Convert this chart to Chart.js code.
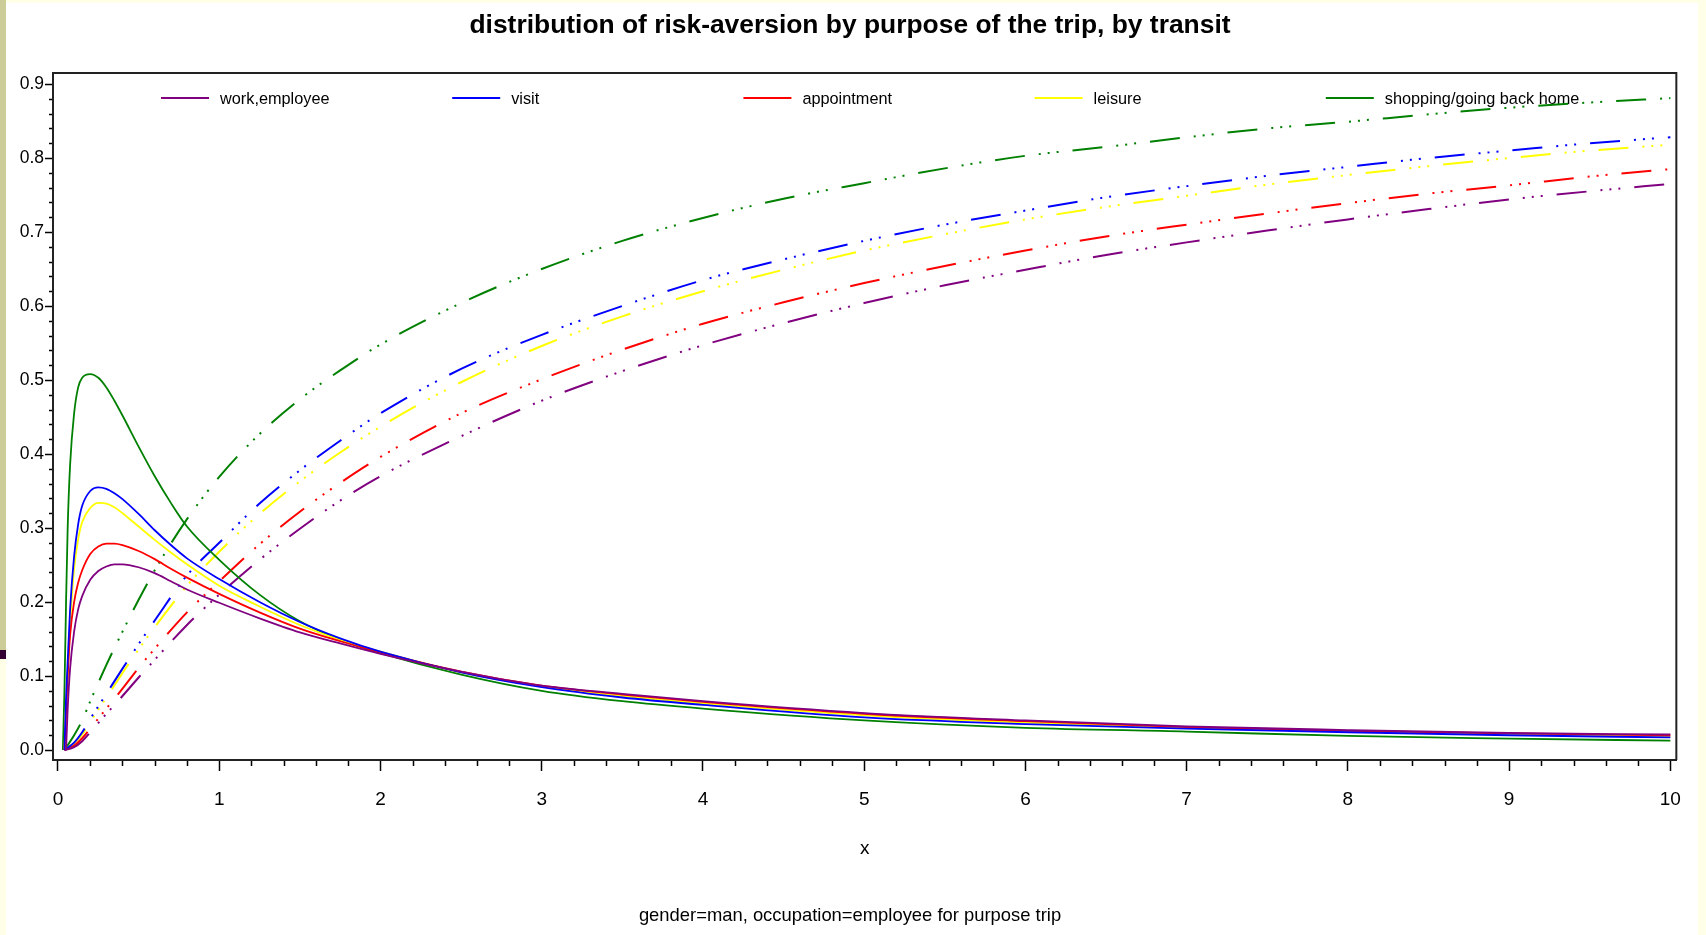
<!DOCTYPE html>
<html>
<head>
<meta charset="utf-8">
<title>distribution of risk-aversion by purpose of the trip, by transit</title>
<script src="https://cdn.jsdelivr.net/npm/chart.js@4.4.1/dist/chart.umd.min.js"></script>
<style>
  html, body { margin: 0; padding: 0; }
  body { width: 1706px; height: 935px; background: #ffffe8; position: relative; overflow: hidden; }
  #strip { position: absolute; left: 0; top: 0; width: 6px; height: 650px; background: #cccc99; }
  #mark { position: absolute; left: 0; top: 650px; width: 6px; height: 9px; background: #330033; }
  #box { position: absolute; left: 6px; top: 3px; width: 1692px; height: 932px; background: #fff; }
</style>
</head>
<body>
<div id="strip"></div><div id="mark"></div>
<div id="box"><canvas id="chart" width="1692" height="932"></canvas></div>
<script>
// groups (purpose of the trip) and their colours
const groups = ['work,employee', 'visit', 'appointment', 'leisure', 'shopping/going back home'];
const colors = ['#800080', '#0000ff', '#ff0000', '#ffff00', '#008000'];

// density curves (solid lines)
const pdfX = [0.03, 0.04, 0.05, 0.06, 0.075, 0.1, 0.125, 0.15, 0.2, 0.25, 0.3, 0.35, 0.4, 0.5, 0.6, 0.7, 0.8, 1.0, 1.25, 1.5, 1.75, 2, 2.5, 3, 3.5, 4, 5, 6, 7, 8, 9, 10];
const pdfWork     = [null, null, 0, 0.055, 0.11, 0.16, 0.19, 0.208, 0.23, 0.242, 0.248, 0.251, 0.251, 0.247, 0.239, 0.228, 0.217, 0.199, 0.178, 0.159, 0.144, 0.130, 0.106, 0.087, 0.076, 0.066, 0.050, 0.040, 0.032, 0.027, 0.023, 0.021];
const pdfVisit    = [null, 0, 0.07, 0.12, 0.19, 0.262, 0.305, 0.33, 0.35, 0.355, 0.353, 0.347, 0.339, 0.319, 0.297, 0.277, 0.259, 0.231, 0.2, 0.173, 0.151, 0.133, 0.105, 0.085, 0.071, 0.061, 0.044, 0.035, 0.029, 0.024, 0.020, 0.017];
const pdfAppt     = [null, 0, 0.05, 0.1, 0.155, 0.2, 0.226, 0.243, 0.265, 0.275, 0.279, 0.279, 0.277, 0.269, 0.258, 0.245, 0.233, 0.211, 0.186, 0.164, 0.147, 0.132, 0.106, 0.087, 0.075, 0.065, 0.049, 0.039, 0.031, 0.026, 0.0225, 0.020];
const pdfLeisure  = [null, 0, 0.06, 0.1, 0.17, 0.245, 0.285, 0.308, 0.327, 0.334, 0.333, 0.328, 0.32, 0.302, 0.284, 0.267, 0.251, 0.222, 0.194, 0.169, 0.149, 0.133, 0.105, 0.086, 0.073, 0.063, 0.047, 0.037, 0.030, 0.025, 0.021, 0.0185];
const pdfShopping = [0, 0.08, 0.2, 0.3, 0.385, 0.455, 0.49, 0.503, 0.508, 0.503, 0.49, 0.472, 0.452, 0.41, 0.37, 0.334, 0.302, 0.257, 0.21, 0.174, 0.149, 0.131, 0.102, 0.080, 0.066, 0.056, 0.040, 0.030, 0.025, 0.019, 0.0155, 0.0126];

// cumulative curves (dash-dot lines)
const cdfX = [0.04, 0.1, 0.15, 0.2, 0.3, 0.4, 0.5, 0.6, 0.8, 1.0, 1.25, 1.5, 1.75, 2, 2.5, 3, 3.5, 4, 4.5, 5, 5.5, 6, 6.5, 7, 7.5, 8, 8.5, 9, 9.5, 10];
const cdfWork     = [0, 0.004, 0.012, 0.024, 0.049, 0.073, 0.098, 0.122, 0.169, 0.21, 0.257, 0.299, 0.337, 0.37, 0.424, 0.472, 0.512, 0.547, 0.577, 0.604, 0.628, 0.649, 0.669, 0.686, 0.702, 0.717, 0.731, 0.744, 0.755, 0.765];
const cdfVisit    = [0, 0.01, 0.024, 0.042, 0.076, 0.11, 0.143, 0.175, 0.236, 0.28, 0.333, 0.378, 0.418, 0.455, 0.515, 0.561, 0.600, 0.635, 0.663, 0.688, 0.710, 0.729, 0.747, 0.762, 0.776, 0.788, 0.80, 0.81, 0.82, 0.828];
const cdfAppt     = [0, 0.006, 0.016, 0.029, 0.056, 0.083, 0.111, 0.137, 0.186, 0.228, 0.278, 0.322, 0.361, 0.396, 0.455, 0.501, 0.541, 0.576, 0.605, 0.631, 0.654, 0.675, 0.694, 0.710, 0.725, 0.739, 0.752, 0.763, 0.775, 0.785];
const cdfLeisure  = [0, 0.009, 0.021, 0.038, 0.071, 0.104, 0.136, 0.166, 0.222, 0.268, 0.319, 0.363, 0.402, 0.437, 0.497, 0.546, 0.586, 0.620, 0.649, 0.675, 0.697, 0.717, 0.734, 0.749, 0.764, 0.777, 0.789, 0.80, 0.81, 0.818];
const cdfShopping = [0, 0.02, 0.04, 0.066, 0.115, 0.16, 0.203, 0.243, 0.312, 0.369, 0.427, 0.474, 0.513, 0.548, 0.604, 0.65, 0.688, 0.719, 0.745, 0.766, 0.786, 0.803, 0.815, 0.828, 0.840, 0.849, 0.859, 0.868, 0.875, 0.881];

const xTicks = [0, 1, 2, 3, 4, 5, 6, 7, 8, 9, 10];
const yTicks = [0, 0.1, 0.2, 0.3, 0.4, 0.5, 0.6, 0.7, 0.8, 0.9];

const FONT = "'Liberation Sans', Arial, sans-serif";
Chart.defaults.font.family = FONT;
Chart.defaults.color = '#000';

const pdfs = [pdfWork, pdfVisit, pdfAppt, pdfLeisure, pdfShopping];
const cdfs = [cdfWork, cdfVisit, cdfAppt, cdfLeisure, cdfShopping];

function toPoints(xs, ys) {
  const pts = [];
  xs.forEach((x, i) => { if (ys[i] !== null) pts.push({ x: x, y: ys[i] }); });
  return pts;
}

const datasets = [];
groups.forEach((g, i) => {
  datasets.push({
    label: g,
    data: toPoints(pdfX, pdfs[i]),
    borderColor: colors[i],
    borderWidth: 1.8,
    pointRadius: 0,
    cubicInterpolationMode: 'monotone'
  });
});
groups.forEach((g, i) => {
  datasets.push({
    label: g + ' (cumulative)',
    data: toPoints(cdfX, cdfs[i]),
    borderColor: colors[i],
    borderWidth: 2,
    borderDash: [30, 14, 2, 7, 2, 7, 2, 14],
    pointRadius: 0,
    cubicInterpolationMode: 'monotone'
  });
});

// legend laid out in fixed columns inside the plot area
const insideLegend = {
  id: 'insideLegend',
  beforeDatasetsDraw(chart) {
    const { ctx, chartArea } = chart;
    ctx.save();
    ctx.font = '16.3px ' + FONT;
    ctx.textBaseline = 'middle';
    ctx.fillStyle = '#000';
    groups.forEach((g, i) => {
      const x0 = chartArea.left + 108 + i * 291.2;
      const y = chartArea.top + 25;
      ctx.strokeStyle = colors[i];
      ctx.lineWidth = 2;
      ctx.beginPath();
      ctx.moveTo(x0, y);
      ctx.lineTo(x0 + 48, y);
      ctx.stroke();
      ctx.fillText(g, x0 + 59, y + 2);
    });
    ctx.restore();
  }
};

// frame on top/right plus minor tick marks
const frameAndMinor = {
  id: 'frameAndMinor',
  afterDraw(chart) {
    const { ctx, chartArea, scales } = chart;
    ctx.save();
    ctx.strokeStyle = '#222';
    ctx.lineWidth = 2;
    ctx.beginPath();
    ctx.moveTo(chartArea.left, chartArea.top);
    ctx.lineTo(chartArea.right, chartArea.top);
    ctx.lineTo(chartArea.right, chartArea.bottom);
    ctx.stroke();
    ctx.strokeStyle = '#000';
    ctx.lineWidth = 1.5;
    ctx.beginPath();
    for (let k = 1; k < 50; k++) {
      if (k % 5 === 0) continue;
      const px = Math.round(scales.x.getPixelForValue(k * 0.2)) + 0.5;
      ctx.moveTo(px, chartArea.bottom + 1);
      ctx.lineTo(px, chartArea.bottom + 6);
    }
    for (let k = 1; k < 45; k++) {
      if (k % 5 === 0) continue;
      const py = Math.round(scales.y.getPixelForValue(k * 0.02)) + 0.5;
      ctx.moveTo(chartArea.left - 4, py);
      ctx.lineTo(chartArea.left - 1, py);
    }
    ctx.stroke();
    ctx.restore();
  }
};

new Chart(document.getElementById('chart'), {
  type: 'line',
  data: { datasets: datasets },
  options: {
    responsive: false,
    animation: false,
    layout: { padding: { left: 14, right: 18, top: 0, bottom: 0 } },
    plugins: {
      legend: { display: false },
      tooltip: { enabled: false },
      title: {
        display: true,
        text: 'distribution of risk-aversion by purpose of the trip, by transit',
        font: { size: 26.4, weight: 'bold' },
        color: '#000',
        padding: { top: 7.3, bottom: 31 }
      },
      subtitle: {
        display: true,
        position: 'bottom',
        text: 'gender=man, occupation=employee for purpose trip',
        font: { size: 18.4 },
        color: '#000',
        padding: { top: 15, bottom: 7.9 }
      }
    },
    scales: {
      x: {
        type: 'linear',
        min: -0.031,
        max: 10.037,
        afterBuildTicks: s => { s.ticks = xTicks.map(v => ({ value: v })); },
        afterFit: s => { s.height = 130; },
        ticks: { font: { size: 19 }, color: '#000', padding: 17, maxRotation: 0, autoSkip: false, callback: v => String(v) },
        grid: { drawOnChartArea: false, drawTicks: true, tickLength: 11, tickColor: '#000', tickWidth: 1.5 },
        border: { display: true, color: '#222', width: 2 },
        title: { display: true, text: 'x', font: { size: 19 }, color: '#000', padding: { top: 0, bottom: 30 } }
      },
      y: {
        min: -0.0135,
        max: 0.9149,
        afterBuildTicks: s => { s.ticks = yTicks.map(v => ({ value: v })); },
        afterFit: s => { s.width = 33; },
        ticks: { font: { size: 17.5 }, color: '#000', padding: 1, autoSkip: false, callback: v => v.toFixed(1) },
        grid: { drawOnChartArea: false, drawTicks: true, tickLength: 8, tickColor: '#000', tickWidth: 1.5 },
        border: { display: true, color: '#222', width: 2 }
      }
    }
  },
  plugins: [insideLegend, frameAndMinor]
});
</script>
</body>
</html>
